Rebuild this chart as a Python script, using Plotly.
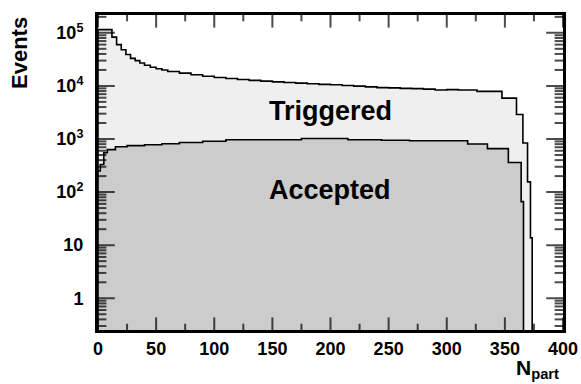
import plotly.graph_objects as go

# ---------------- data ----------------
trig_edges = [0, 12, 16, 20, 24, 28, 32, 36, 40, 45, 50, 55, 60, 70, 80, 90, 100,
              110, 120, 130, 140, 150, 160, 170, 180, 190, 200, 210, 220, 230, 240,
              250, 260, 270, 280, 290, 300, 310, 326, 347.5, 360, 365.5, 369.5, 372, 373.5]
trig_vals = [1.15e5, 8.3e4, 6.0e4, 4.8e4, 3.9e4, 3.3e4, 3.0e4, 2.7e4, 2.45e4, 2.25e4,
             2.1e4, 2.0e4, 1.87e4, 1.74e4, 1.62e4, 1.52e4, 1.44e4, 1.38e4, 1.32e4,
             1.27e4, 1.23e4, 1.19e4, 1.16e4, 1.13e4, 1.10e4, 1.07e4, 1.05e4, 1.02e4,
             9.9e3, 9.6e3, 9.3e3, 9.2e3, 9.0e3, 8.9e3, 8.7e3, 8.4e3, 8.5e3, 8.4e3,
             7.9e3, 5.9e3, 2.9e3, 840, 156, 13.7]

acc_edges = [0, 2, 5, 8, 15, 25, 40, 55, 70, 90, 110, 175, 215, 244, 268, 318, 335,
             353, 364, 366]
acc_vals = [250, 330, 550, 630, 716, 750, 780, 815, 860, 910, 970, 1020, 970, 950,
            930, 805, 660, 360, 66]

y_tickvals = [1, 10, 100, 1000, 1e4, 1e5]
y_ticktext = ["1", "10", "10<sup>2</sup>", "10<sup>3</sup>", "10<sup>4</sup>", "10<sup>5</sup>"]
x_tickvals = [0, 50, 100, 150, 200, 250, 300, 350, 400]
x_minor_vals = [25, 75, 125, 175, 225, 275, 325, 375]

# ---------------- layout geometry ----------------
W, H = 581, 384
ML, MR, MT, MB = 98, 18, 15, 54
PW, PH = W - ML - MR, H - MT - MB
X_RANGE = [0, 400]
Y_RANGE = [-0.598, 5.336]

FLOOR = 1e-2  # below the visible range, closes the filled polygon


def step_polygon(edges, vals):
    xs, ys = [edges[0]], [FLOOR]
    for i, v in enumerate(vals):
        xs += [edges[i], edges[i + 1]]
        ys += [v, v]
    xs.append(edges[-1])
    ys.append(FLOOR)
    return xs, ys


y_minor_vals = []
for d in range(-1, 6):
    for k in range(2, 10):
        v = k * 10 ** d
        if 10 ** Y_RANGE[0] <= v <= 10 ** Y_RANGE[1]:
            y_minor_vals.append(v)

# tick marks (ROOT style, inside, all four sides): line markers centred on the
# frame edges; the half outside the plot area is clipped away
y_lo, y_hi = 10 ** Y_RANGE[0], 10 ** Y_RANGE[1]
mx, my, msym, msize = [], [], [], []
for vals, L in ((x_tickvals, 9), (x_minor_vals, 4.5)):
    for v in vals:
        for edge in (y_lo, y_hi):
            mx.append(v); my.append(edge); msym.append("line-ns"); msize.append(2 * L)
for vals, L in ((y_tickvals, 12), (y_minor_vals, 6)):
    for v in vals:
        for edge in X_RANGE:
            mx.append(edge); my.append(v); msym.append("line-ew"); msize.append(2 * L)

fig = go.Figure()
tx, ty = step_polygon(trig_edges, trig_vals)
fig.add_trace(go.Scatter(x=tx, y=ty, mode="lines", fill="toself",
                         fillcolor="#efefef", line=dict(color="black", width=1.6),
                         hoverinfo="skip", showlegend=False))
ax_, ay_ = step_polygon(acc_edges, acc_vals)
fig.add_trace(go.Scatter(x=ax_, y=ay_, mode="lines", fill="toself",
                         fillcolor="#cccccc", line=dict(color="black", width=1.6),
                         hoverinfo="skip", showlegend=False))
fig.add_trace(go.Scatter(x=mx, y=my, mode="markers", cliponaxis=True,
                         marker=dict(symbol=msym, size=msize, color="black",
                                     line=dict(color="black", width=2)),
                         hoverinfo="skip", showlegend=False))

FONT = "Liberation Sans, Arial, Helvetica, sans-serif"

fig.update_layout(
    template="none",
    width=W, height=H,
    margin=dict(l=ML, r=MR, t=MT, b=MB),
    paper_bgcolor="white", plot_bgcolor="white",
    font=dict(family=FONT, color="black", size=18),
)
fig.update_xaxes(range=X_RANGE, showgrid=False, zeroline=False,
                 showline=True, linecolor="black", linewidth=3, mirror=True,
                 ticks="", tickvals=x_tickvals,
                 tickfont=dict(family=FONT, size=18, weight="bold"))
fig.update_yaxes(type="log", range=Y_RANGE, showgrid=False, zeroline=False,
                 showline=True, linecolor="black", linewidth=3, mirror=True,
                 ticks="", tickvals=y_tickvals, ticktext=y_ticktext,
                 ticklabelstandoff=8,
                 tickfont=dict(family=FONT, size=18, weight="bold"))

fig.add_annotation(text="<b>Triggered</b>", xref="paper", yref="paper",
                   x=(330 - ML) / PW, y=(330 - 111) / PH,
                   xanchor="center", yanchor="middle", showarrow=False,
                   font=dict(family=FONT, size=27, color="black"))
fig.add_annotation(text="<b>Accepted</b>", xref="paper", yref="paper",
                   x=(330 - ML) / PW, y=(330 - 189.5) / PH,
                   xanchor="center", yanchor="middle", showarrow=False,
                   font=dict(family=FONT, size=27, color="black"))
fig.add_annotation(text="<b>Events</b>", xref="paper", yref="paper",
                   x=(19 - ML) / PW, y=(330 - 53) / PH, textangle=-90,
                   xanchor="center", yanchor="middle", showarrow=False,
                   font=dict(family=FONT, size=22, color="black"))
fig.add_annotation(text="<b>N<sub>part</sub></b>", xref="paper", yref="paper",
                   x=(514 - ML) / PW, y=(330 - 354) / PH,
                   xanchor="left", yanchor="top", showarrow=False,
                   font=dict(family=FONT, size=21, color="black"))

fig.write_html("out.html")
